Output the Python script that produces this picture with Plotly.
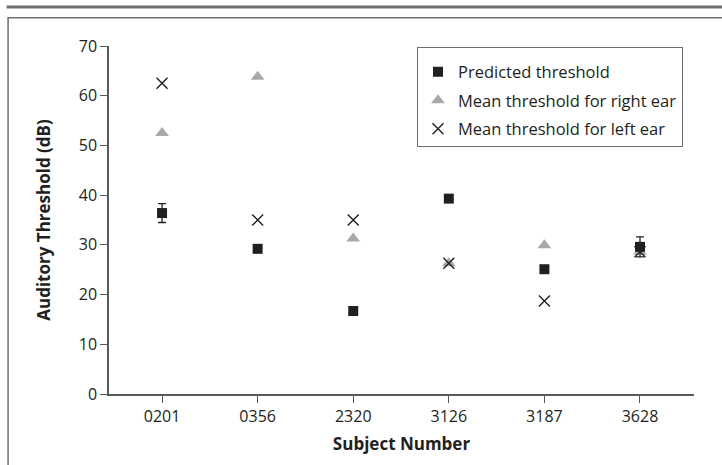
import plotly.graph_objects as go

subjects = ["0201", "0356", "2320", "3126", "3187", "3628"]
predicted = [36.4, 29.2, 16.7, 39.3, 25.1, 29.6]
predicted_err = [1.9, 0.7, 0.6, 0.7, 0.7, 2.0]
right_ear = [52.5, 63.8, 31.3, 26.3, 29.9, 28.6]
left_ear = [62.5, 35.0, 35.0, 26.3, 18.7, 28.6]
y_ticks = [0, 10, 20, 30, 40, 50, 60, 70]

FONT = "Open Sans"
DARK = "#231f20"
GRAY = "#a7a9ac"
FRAME = "#6d6e71"
AXIS = "#58595b"

fig = go.Figure()

fig.add_trace(go.Scatter(
    x=subjects, y=right_ear, mode="markers", name="Mean threshold for right ear",
    marker=dict(symbol="triangle-up", size=12, color=GRAY), legendrank=2, legendgroup="b",
))
fig.add_trace(go.Scatter(
    x=subjects, y=predicted, mode="markers", name="Predicted threshold",
    marker=dict(symbol="square", size=10, color=DARK),
    error_y=dict(type="data", array=predicted_err, color=DARK, thickness=1.3, width=4),
    legendrank=1, legendgroup="a",
))
fig.add_trace(go.Scatter(
    x=subjects, y=left_ear, mode="markers", name="Mean threshold for left ear",
    marker=dict(symbol="x-thin-open", size=11, color=DARK, line=dict(width=1.4, color=DARK)),
    legendrank=3, legendgroup="c",
))

fig.update_layout(
    width=722, height=465,
    margin=dict(l=109, r=28, t=46, b=71),
    paper_bgcolor="white", plot_bgcolor="white",
    font=dict(family=FONT, size=16, color=DARK),
    showlegend=True,
    legend=dict(
        x=0.5265, y=0.997, xanchor="left", yanchor="top",
        bordercolor=FRAME, borderwidth=1, bgcolor="white",
        font=dict(family=FONT, size=16.5, color=DARK),
        tracegroupgap=4, traceorder="grouped",
        itemwidth=30,
        title=dict(text=" ", font=dict(size=5)),
    ),
    xaxis=dict(
        type="category", range=[-0.555, 5.565],
        showline=True, linecolor=AXIS, linewidth=1.5,
        ticks="outside", ticklen=7, tickcolor=AXIS, tickwidth=1.3,
        showgrid=False, zeroline=False,
        tickfont=dict(family=FONT, size=16, color=DARK),
        title=dict(text="<b>Subject Number</b>", font=dict(family=FONT, size=17, color=DARK), standoff=12),
    ),
    yaxis=dict(
        range=[0, 70], tickvals=y_ticks,
        showline=True, linecolor=AXIS, linewidth=1.5,
        ticks="outside", ticklen=7, tickcolor=AXIS, tickwidth=1.3,
        showgrid=False, zeroline=False,
        tickfont=dict(family=FONT, size=16, color=DARK),
        title=dict(text="<b>Auditory Threshold (dB)</b>", font=dict(family=FONT, size=17, color=DARK), standoff=24),
    ),
    shapes=[
        dict(type="line", xref="paper", yref="paper", x0=-0.175, x1=1.102, y0=1.112, y1=1.112,
             line=dict(color=FRAME, width=3)),
        dict(type="rect", xref="paper", yref="paper", x0=-0.1725, x1=1.0991, y0=-0.25, y1=1.081,
             line=dict(color=FRAME, width=1.5), fillcolor="rgba(0,0,0,0)", layer="below"),
    ],
)

fig.write_html("out.html", config={"displayModeBar": False},
               post_script="document.body.style.margin='0';")
